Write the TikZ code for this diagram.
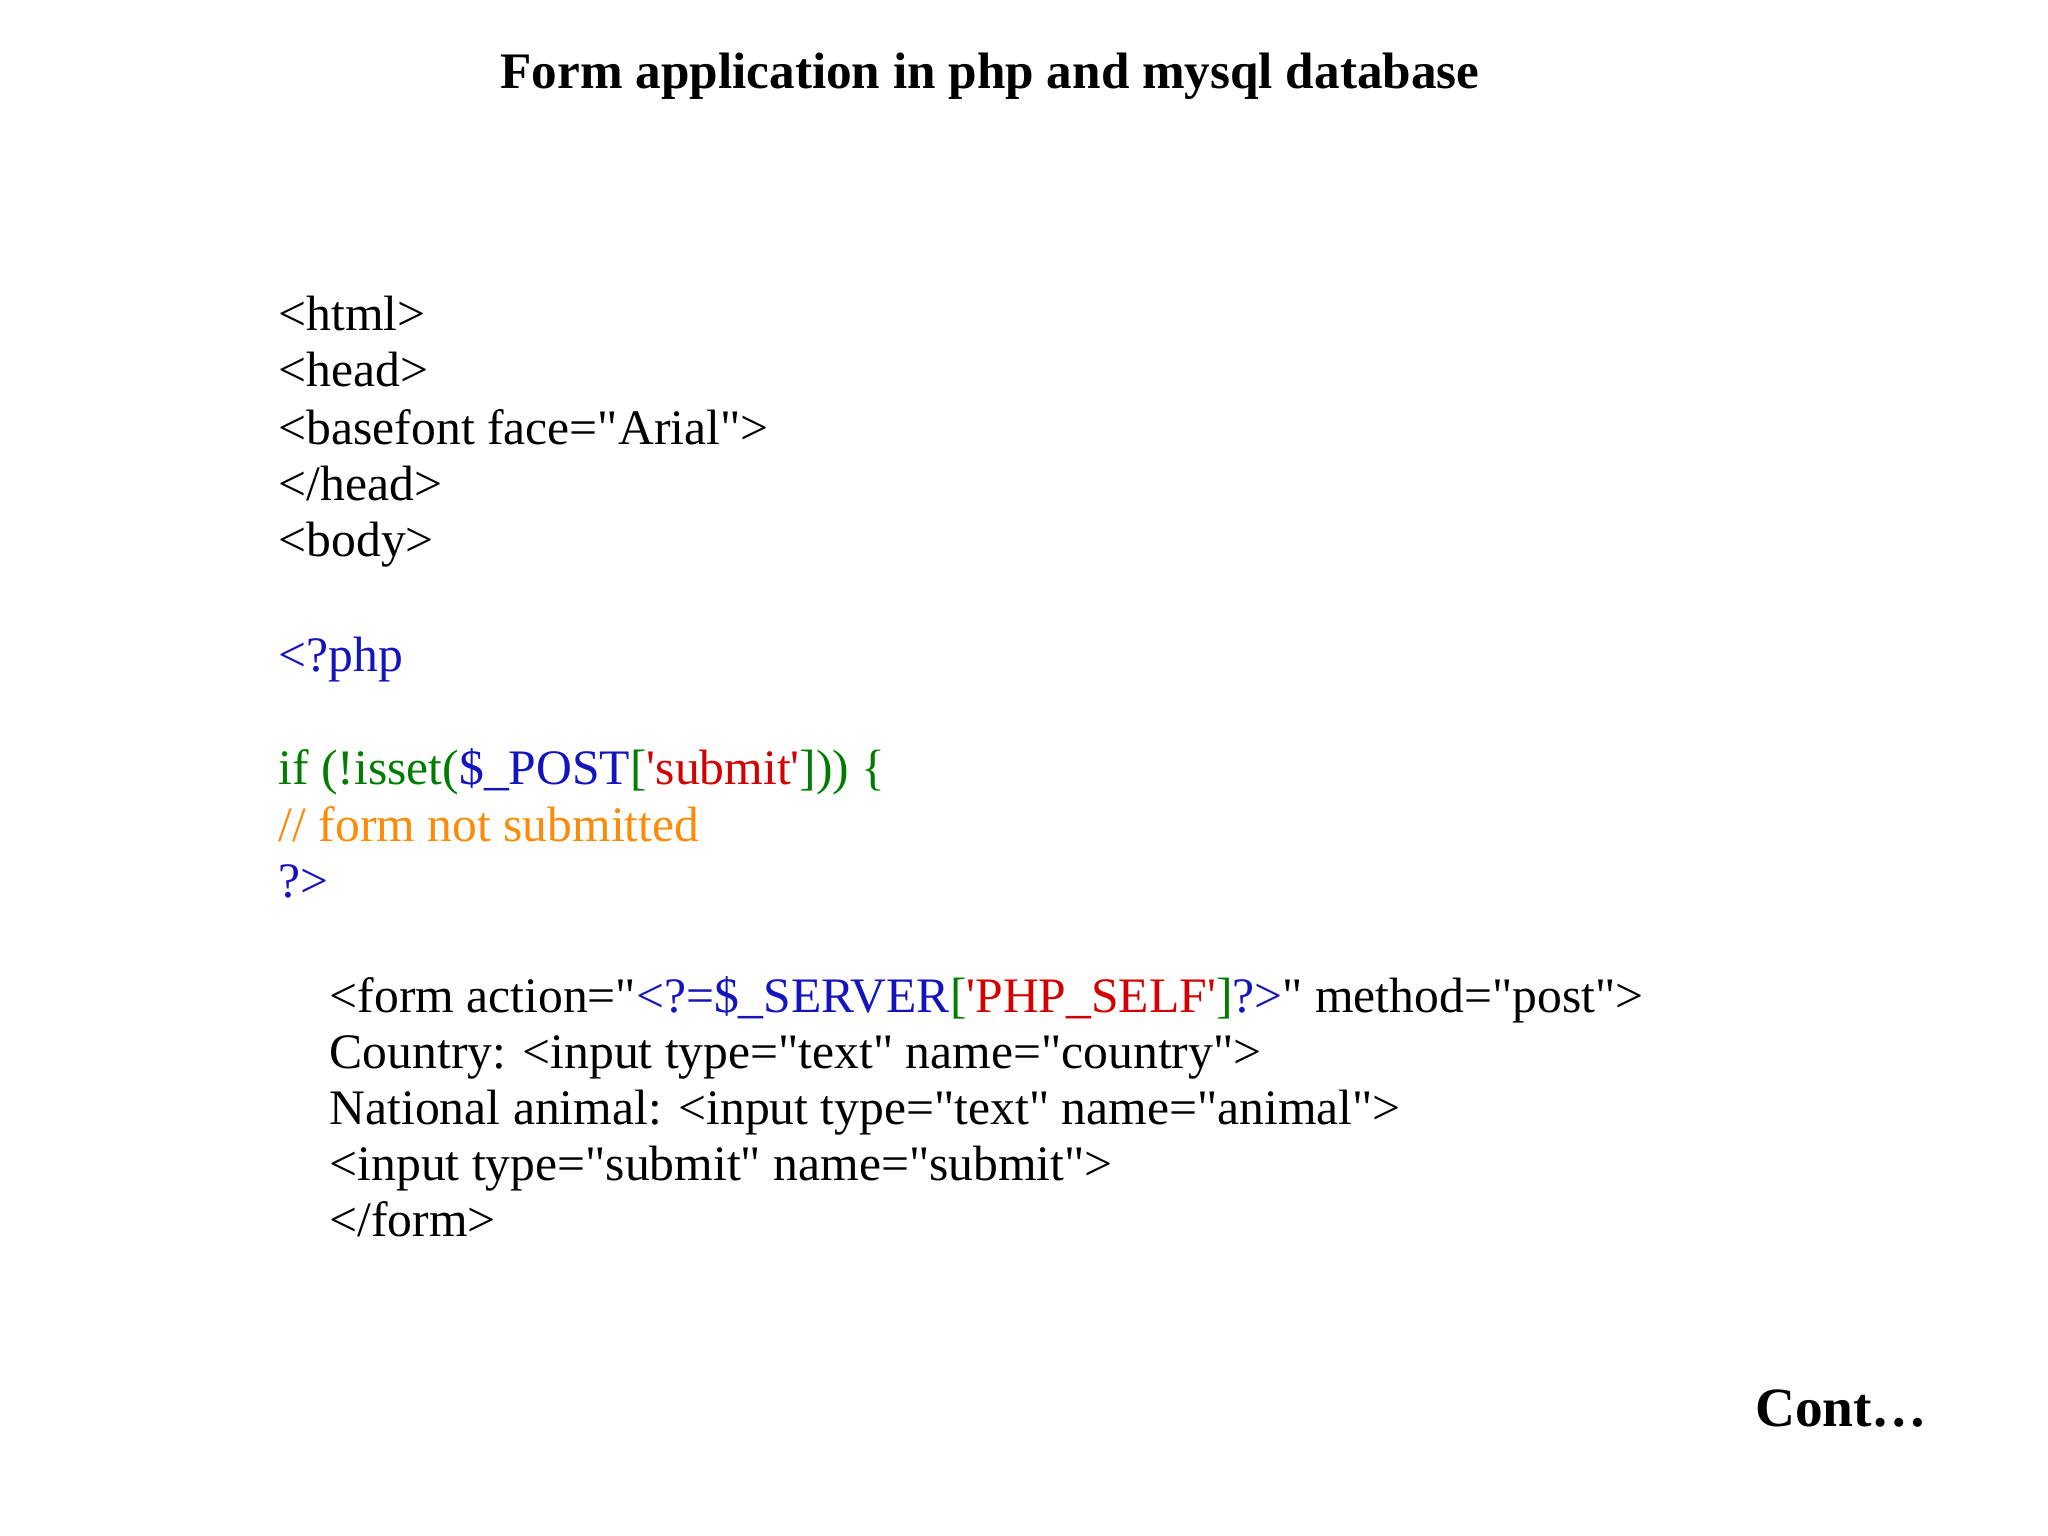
\documentclass[tikz,border=0pt]{standalone}
\usepackage{fontspec}
\setmainfont{Liberation Serif}[Ligatures=TeXOff]
\definecolor{cblue}{RGB}{20,20,190}
\definecolor{cgreen}{RGB}{0,125,0}
\definecolor{cred}{RGB}{210,0,0}
\definecolor{corange}{RGB}{250,140,10}
\begin{document}
\begin{tikzpicture}[x=0.5pt,y=-0.5pt,
  code/.style={anchor=base west,inner sep=0pt,font=\fontsize{19}{21}\selectfont},
  bold/.style={inner sep=0pt,font=\fontsize{19.6}{21}\selectfont\bfseries}]
\useasboundingbox (0,0) rectangle (1568,1176);
\node[bold,anchor=base] (title) at (758,68) {Form application in php and mysql database};
\node[code] (l1) at (213,253) {<html>};
\node[code] (l2) at (213,296) {<head>};
\node[code] (l3) at (213,340) {<basefont face="Arial">};
\node[code] (l4) at (213,383) {</head>};
\node[code] (l5) at (213,426) {<body>};
\node[code,text=cblue] (l6) at (213,514) {<?php};
\node[code] (l7) at (213,601) {\textcolor{cgreen}{if (!isset(}\textcolor{cblue}{\$\_POST}\textcolor{cgreen}{[}\textcolor{cred}{'submit'}\textcolor{cgreen}{])) \{}};
\node[code,text=corange] (l8) at (213,644) {// form not submitted};
\node[code,text=cblue] (l9) at (213,687) {?>};
\node[code] (l10) at (252,775) {<form action="\textcolor{cblue}{<?=\$\_SERVER}\textcolor{cgreen}{[}\textcolor{cred}{'PHP\_SELF'}\textcolor{cgreen}{]}\textcolor{cblue}{?>}" method="post">};
\node[code] (l11) at (252,818) {Country: <input type="text" name="country">};
\node[code] (l12) at (252,861) {National animal: <input type="text" name="animal">};
\node[code] (l13) at (252,904) {<input type="submit" name="submit">};
\node[code] (l14) at (252,947) {</form>};
\node[bold,anchor=base east,font=\fontsize{21.2}{23}\selectfont\bfseries] (cont) at (1476,1092) {Cont…};
\end{tikzpicture}
\end{document}
